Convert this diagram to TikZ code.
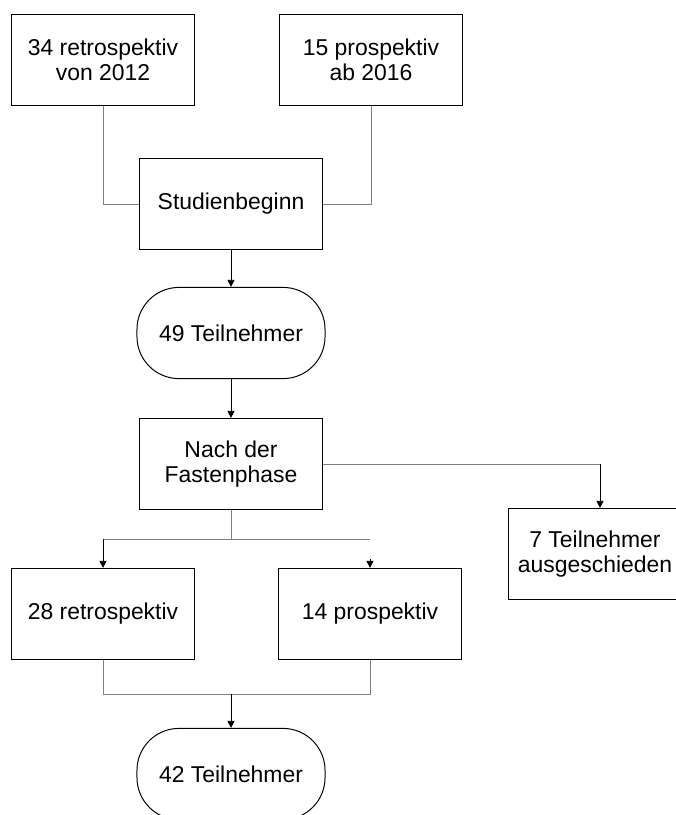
\documentclass[tikz,border=0pt]{standalone}
\usepackage{fontspec}
\setmainfont{Liberation Sans}
\usetikzlibrary{arrows.meta,calc}

\begin{document}
\begin{tikzpicture}[x=0.025cm, y=-0.025cm,
  boite/.style={draw, line width=0.7pt, minimum width=4.55cm, minimum height=2.28cm,
    inner sep=0pt, align=center, font=\fontsize{16.3pt}{18pt}\selectfont},
  capsule/.style={boite, minimum width=4.7cm, rounded corners=1.05cm},
  trait/.style={draw=black!50, line width=0.6pt},
  fleche/.style={draw=black, line width=0.6pt, -{Triangle[length=5pt,width=5pt]}}]

% Cadre de l'image
\clip (0,0) rectangle (676,815);

% Boites
\node[boite] (ret34) at (103,60) {34 retrospektiv\\von 2012};
\node[boite] (pro15) at (371,60) {15 prospektiv\\ab 2016};
\node[boite] (start) at (231,204) {Studienbeginn};
\node[capsule] (tn49) at (231,333) {49 Teilnehmer};
\node[boite] (fast) at (231,464) {Nach der\\Fastenphase};
\node[boite] (aus7) at (600,554) {7 Teilnehmer\hspace*{0.25cm}\\ausgeschieden\hspace*{0.25cm}};
\node[boite] (ret28) at (103,614) {28 retrospektiv};
\node[boite] (pro14) at (370,614) {14 prospektiv};
\node[capsule] (tn42) at (231,774) {42 Teilnehmer};

% Points de jonction
\coordinate (split) at (231,539);
\coordinate (join) at (231,694);

% Vers le debut de l'etude
\draw[trait] (ret34.south) |- (start.west);
\draw[trait] (pro15.south) |- (start.east);
\draw[fleche] (start.south) -- (tn49.north);
\draw[fleche] (tn49.south) -- (fast.north);

% Sortie a droite
\draw[trait] (fast.east) -- (fast.east -| aus7.north);
\draw[fleche] (fast.east -| aus7.north) -- (aus7.north);

% Separation en deux groupes
\draw[trait] (fast.south) -- (split);
\draw[trait] (ret28.north |- split) -- (pro14.north |- split);
\draw[fleche] (ret28.north |- split) -- (ret28.north);
\draw[fleche] ($(pro14.north)+(0,-9)$) -- (pro14.north);

% Regroupement final
\draw[trait] (ret28.south) -- (ret28.south |- join) -- (pro14.south |- join) -- (pro14.south);
\draw[fleche] (join) -- (tn42.north);

\end{tikzpicture}
\end{document}
